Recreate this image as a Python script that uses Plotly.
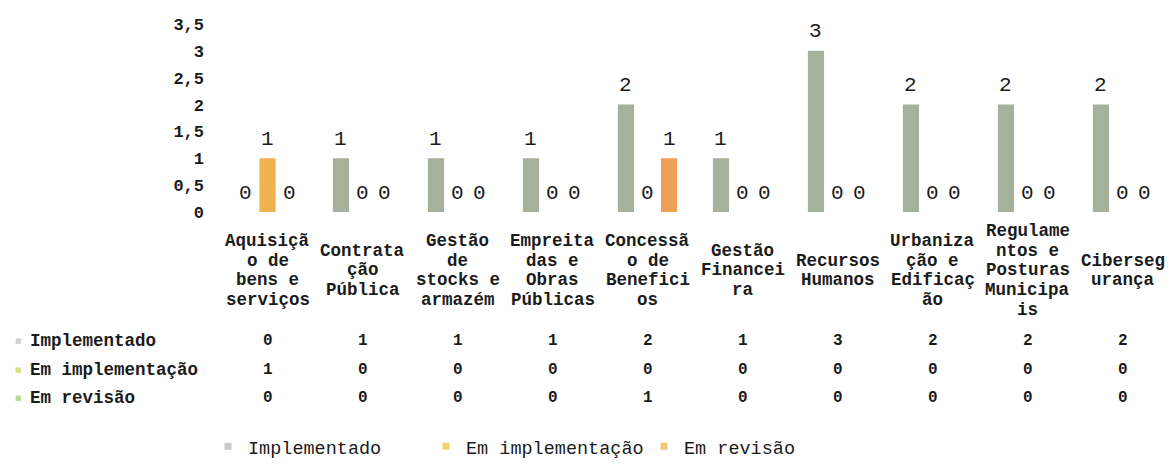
import plotly.graph_objects as go

# ---------------- data ----------------
categories = [
    ["Aquisiçã", "o de", "bens e", "serviços"],
    ["Contrata", "ção", "Pública"],
    ["Gestão", "de", "stocks e", "armazém"],
    ["Empreita", "das e", "Obras", "Públicas"],
    ["Concessã", "o de", "Benefici", "os"],
    ["Gestão", "Financei", "ra"],
    ["Recursos", "Humanos"],
    ["Urbaniza", "ção e", "Edificaç", "ão"],
    ["Regulame", "ntos e", "Posturas", "Municipa", "is"],
    ["Ciberseg", "urança"],
]
series_names = ["Implementado", "Em implementação", "Em revisão"]
implementado = [0, 1, 1, 1, 2, 1, 3, 2, 2, 2]
em_implementacao = [1, 0, 0, 0, 0, 0, 0, 0, 0, 0]
em_revisao = [0, 0, 0, 0, 1, 0, 0, 0, 0, 0]
y_ticks = [0, 0.5, 1, 1.5, 2, 2.5, 3, 3.5]

series_values = [implementado, em_implementacao, em_revisao]
bar_colors = ["#a5b19b", "#eeb34c", "#ef9f58"]
table_key_colors = ["#d2d2d2", "#d6e07a", "#b9d991"]
legend_key_colors = ["#c9c9c9", "#f0d470", "#f2c47a"]

FONT = "Liberation Mono"
TXT = "#1b1b1b"

W, H = 1173, 468
L, R, T, B = 220, 3, 24, 251
PW = W - L - R
PH = H - T - B
BOTTOM = T + PH  # pixel row of the plot bottom


def px_x(px):
    return (px - L) / PW


def px_y(py):
    return (BOTTOM - py) / PH


xs = list(range(len(categories)))
BARGAP = 0.32
fig = go.Figure()
for name, vals, col in zip(series_names, series_values, bar_colors):
    fig.add_trace(go.Bar(x=xs, y=vals, name=name, marker=dict(color=col, line=dict(width=0)),
                         showlegend=False, hoverinfo="skip"))

# legend keys (small squares)
for name, col in zip(series_names, legend_key_colors):
    fig.add_trace(go.Scatter(x=[None], y=[None], mode="markers", name=name,
                             marker=dict(symbol="square", size=7, color=col)))

annotations = []
# data labels above each bar
n = len(series_names)
slot = (1 - BARGAP) / n
for s, vals in enumerate(series_values):
    off = (s - (n - 1) / 2) * slot
    for i, v in enumerate(vals):
        annotations.append(dict(x=i + off, y=v, xref="x", yref="y", text=str(v), showarrow=False,
                                yshift=19, yanchor="middle",
                                font=dict(family=FONT, size=21, color=TXT)))

# category labels: one annotation per line, block centred vertically
LINE = 20.3
CENTER_PX = 277
for i, lines in enumerate(categories):
    k = len(lines)
    for j, txt in enumerate(lines):
        py = CENTER_PX + (j - (k - 1) / 2) * LINE
        annotations.append(dict(x=i, y=px_y(py), xref="x", yref="paper", text=txt, showarrow=False,
                                yanchor="middle", xanchor="center",
                                font=dict(family=FONT, size=17.5, color=TXT, weight="bold")))

# data table
row_px = [349, 379, 408]
for s, (name, vals) in enumerate(zip(series_names, series_values)):
    yy = px_y(row_px[s])
    annotations.append(dict(x=px_x(18), y=yy, xref="paper", yref="paper", xanchor="center",
                            yanchor="middle", showarrow=False, text="■",
                            font=dict(family="DejaVu Sans", size=7, color=table_key_colors[s])))
    annotations.append(dict(x=px_x(28), y=yy, xref="paper", yref="paper", xanchor="left",
                            yanchor="middle", showarrow=False, text=name,
                            font=dict(family=FONT, size=17.5, color=TXT, weight="bold")))
    for i, v in enumerate(vals):
        annotations.append(dict(x=i, y=yy, xref="x", yref="paper", yanchor="middle",
                                text=str(v), showarrow=False,
                                font=dict(family=FONT, size=16, color=TXT, weight="bold")))

fig.update_layout(
    width=W, height=H,
    margin=dict(l=L, r=R, t=T, b=B),
    paper_bgcolor="white", plot_bgcolor="white",
    barmode="group", bargap=BARGAP, bargroupgap=0.25,
    separators=", ",
    xaxis=dict(range=[-0.5, len(categories) - 0.5], showticklabels=False, showgrid=False,
               zeroline=False, showline=False, ticks=""),
    yaxis=dict(range=[0, 3.5], tickvals=y_ticks, showgrid=False, zeroline=False, showline=False,
               ticks="", ticklabelstandoff=15,
               tickfont=dict(family=FONT, size=17, color=TXT, weight="bold")),
    legend=dict(orientation="h", x=px_x(208), xanchor="left", y=px_y(458), yanchor="middle",
                entrywidth=173, entrywidthmode="pixels",
                font=dict(family=FONT, size=18.5, color=TXT),
                bgcolor="rgba(0,0,0,0)", borderwidth=0, tracegroupgap=0),
    annotations=annotations,
    font=dict(family=FONT, color=TXT),
)

fig.write_html("out.html")
